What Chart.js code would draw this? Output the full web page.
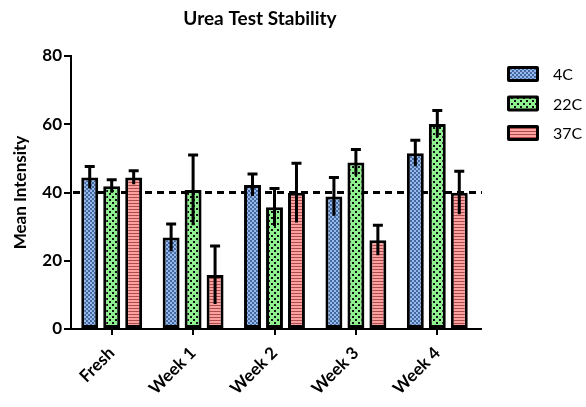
<!DOCTYPE html>
<html>
<head>
<meta charset="utf-8">
<script src="https://cdn.jsdelivr.net/npm/chart.js@4/dist/chart.umd.min.js"></script>
<style>
  html, body { margin: 0; padding: 0; background: #ffffff; }
  #wrap { width: 586px; height: 407px; position: relative; }
</style>
</head>
<body>
<div id="wrap"><canvas id="c" width="586" height="407"></canvas></div>
<script>
// Urea test stability: mean intensity (+ SD) per storage temperature
const categories = ['Fresh', 'Week 1', 'Week 2', 'Week 3', 'Week 4'];
const seriesNames = ['4C', '22C', '37C'];
const mean4C  = [44.4, 26.8, 42.2, 38.8, 51.5];
const err4C   = [3.2, 4.0, 3.2, 5.6, 3.8];
const mean22C = [41.8, 40.7, 35.7, 48.8, 60.1];
const err22C  = [1.9, 10.3, 5.5, 3.8, 3.9];
const mean37C = [44.4, 15.8, 39.9, 26.0, 39.9];
const err37C  = [2.0, 8.5, 8.7, 4.4, 6.3];
const yTicks = [0, 20, 40, 60, 80];
const referenceLevel = 40;

const FONT = 'Lato, "Liberation Sans", sans-serif';

// --- fill patterns --------------------------------------------------------
function makePattern(w, h, paint) {
  const cv = document.createElement('canvas');
  cv.width = w; cv.height = h;
  const g = cv.getContext('2d');
  paint(g);
  return g.createPattern(cv, 'repeat');
}
const ctxMain = document.getElementById('c').getContext('2d');

// fine blue checker
const pat4C = makePattern(4, 4, g => {
  g.fillStyle = '#46689f'; g.fillRect(0, 0, 4, 4);
  g.fillStyle = '#94b9ec'; g.fillRect(0, 0, 2, 2); g.fillRect(2, 2, 2, 2);
});
// green with staggered black squares
const pat22C = makePattern(6, 6, g => {
  g.fillStyle = '#8ff08f'; g.fillRect(0, 0, 6, 6);
  g.fillStyle = '#111111'; g.fillRect(1, 1, 2, 2); g.fillRect(4, 4, 2, 2);
});
// pink with horizontal stripes
const pat37C = makePattern(3, 3, g => {
  g.fillStyle = '#ffa0a0'; g.fillRect(0, 0, 3, 3);
  g.fillStyle = '#a84c4c'; g.fillRect(0, 2, 3, 1);
});
const patterns = [pat4C, pat22C, pat37C];
const means = [mean4C, mean22C, mean37C];
const errs = [err4C, err22C, err37C];

// --- plugins --------------------------------------------------------------
const refLine = {
  id: 'refLine',
  beforeDatasetsDraw(chart) {
    const { ctx, chartArea, scales } = chart;
    const y = scales.y.getPixelForValue(referenceLevel);
    ctx.save();
    ctx.strokeStyle = '#000';
    ctx.lineWidth = 3;
    ctx.setLineDash([7, 5]);
    ctx.beginPath();
    ctx.moveTo(chartArea.left + 2, y);
    ctx.lineTo(chartArea.right + 4, y);
    ctx.stroke();
    ctx.restore();
  }
};

const errorBars = {
  id: 'errorBars',
  afterDatasetsDraw(chart) {
    const { ctx, scales } = chart;
    ctx.save();
    ctx.strokeStyle = '#000';
    ctx.lineWidth = 3;
    chart.data.datasets.forEach((ds, di) => {
      const meta = chart.getDatasetMeta(di);
      meta.data.forEach((bar, i) => {
        const v = ds.data[i], e = errs[di][i];
        const yTop = scales.y.getPixelForValue(v + e);
        const yLow = scales.y.getPixelForValue(v - e);
        ctx.beginPath();
        ctx.moveTo(bar.x, yLow);
        ctx.lineTo(bar.x, yTop);
        ctx.moveTo(bar.x - 5, yTop);
        ctx.lineTo(bar.x + 5, yTop);
        ctx.stroke();
      });
    });
    ctx.restore();
  }
};

const decorations = {
  id: 'decorations',
  afterDraw(chart) {
    const { ctx, chartArea, scales } = chart;
    ctx.save();
    // x axis runs a little past the last category
    ctx.strokeStyle = '#000';
    ctx.lineWidth = 2;
    const yb = scales.y.getPixelForValue(0);
    ctx.beginPath();
    ctx.moveTo(chartArea.right - 2, yb);
    ctx.lineTo(chartArea.right + 4, yb);
    ctx.stroke();

    // title
    ctx.fillStyle = '#000';
    ctx.font = 'bold 19px ' + FONT;
    ctx.textAlign = 'center';
    ctx.textBaseline = 'alphabetic';
    ctx.fillText('Urea Test Stability', 260, 25);

    // legend
    ctx.font = '16px ' + FONT;
    ctx.textAlign = 'left';
    ctx.textBaseline = 'middle';
    seriesNames.forEach((name, i) => {
      const x = 507, y = 66 + i * 29.5, w = 32, h = 16;
      ctx.fillStyle = '#000';
      ctx.beginPath();
      ctx.roundRect(x, y, w, h, 2);
      ctx.fill();
      ctx.fillStyle = patterns[i];
      ctx.fillRect(x + 3, y + 3, w - 6, h - 6);
      ctx.fillStyle = '#000';
      ctx.fillText(name, 553, y + h / 2 + 1);
    });
    ctx.restore();
  }
};

// --- chart ----------------------------------------------------------------
new Chart(ctxMain, {
  type: 'bar',
  data: {
    labels: categories,
    datasets: seriesNames.map((name, i) => ({
      label: name,
      data: means[i],
      backgroundColor: patterns[i],
      borderColor: '#000',
      borderWidth: 3,
      borderSkipped: false,
      categoryPercentage: 0.81,
      barPercentage: 0.77
    }))
  },
  options: {
    responsive: false,
    animation: false,
    devicePixelRatio: 1,
    layout: { padding: { left: 0, right: 108, top: 56, bottom: 0 } },
    plugins: {
      legend: { display: false },
      title: { display: false },
      tooltip: { enabled: false }
    },
    scales: {
      x: {
        offset: true,
        afterFit(scale) { scale.height = 78; },
        border: { display: true, color: '#000', width: 2 },
        grid: {
          display: true,
          offset: false,
          drawOnChartArea: false,
          drawTicks: true,
          tickLength: 6,
          color: '#000',
          lineWidth: 2
        },
        ticks: {
          color: '#000',
          font: { family: FONT, size: 17, weight: 'bold' },
          maxRotation: 45,
          minRotation: 45,
          padding: 8
        }
      },
      y: {
        min: 0,
        max: 80,
        afterFit(scale) { scale.width = 71; },
        afterBuildTicks(scale) { scale.ticks = yTicks.map(v => ({ value: v })); },
        border: { display: true, color: '#000', width: 2 },
        grid: {
          display: true,
          drawOnChartArea: false,
          drawTicks: true,
          tickLength: 7,
          color: '#000',
          lineWidth: 2
        },
        ticks: {
          color: '#000',
          font: { family: FONT, size: 17, weight: 'bold' },
          padding: 2
        },
        title: {
          display: true,
          text: 'Mean Intensity',
          color: '#000',
          font: { family: FONT, size: 17, weight: 'bold' },
          padding: { top: 10, bottom: 0 }
        }
      }
    }
  },
  plugins: [refLine, errorBars, decorations]
});
</script>
</body>
</html>
